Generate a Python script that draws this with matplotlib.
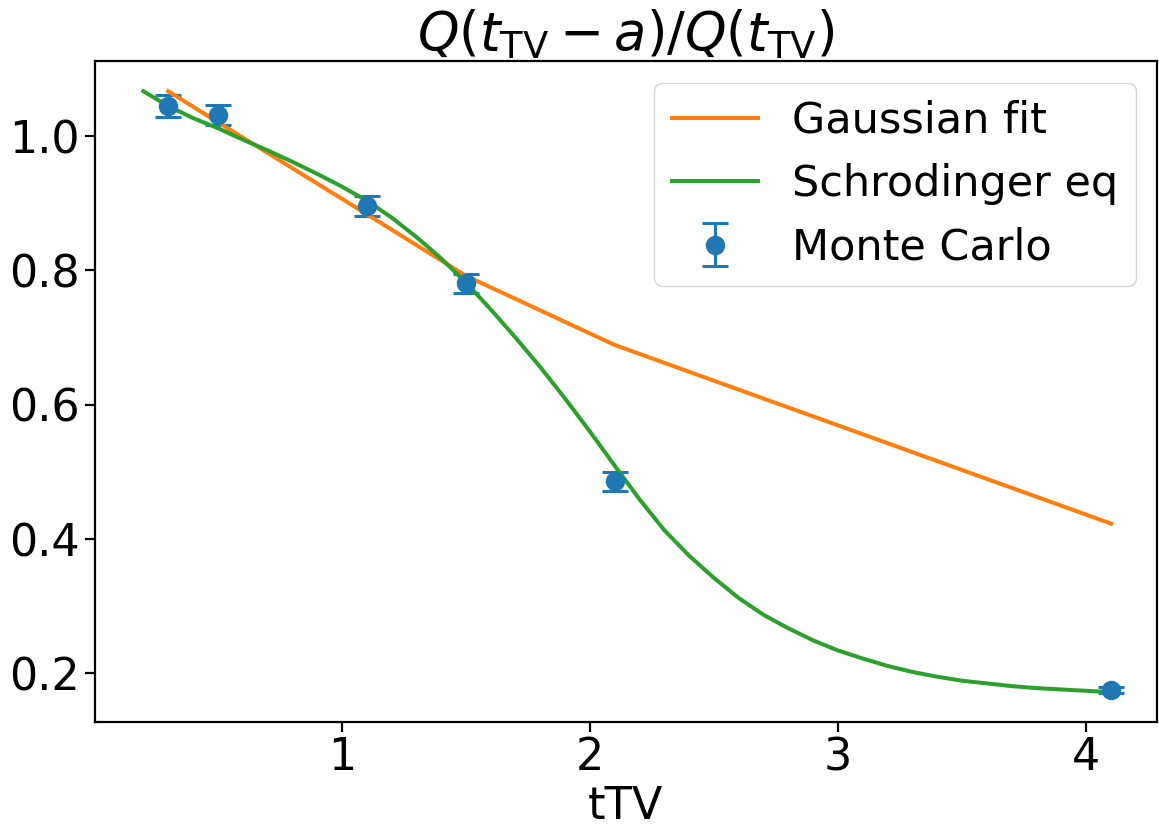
import numpy as np
import matplotlib
matplotlib.use("Agg")
from matplotlib import pyplot as plt

# Monte Carlo points
x_mc = [0.3, 0.5, 1.1, 1.5, 2.1, 4.1]
y_mc = [1.045, 1.032, 0.896, 0.781, 0.486, 0.175]
err_mc = [0.016, 0.015, 0.015, 0.014, 0.014, 0.004]

# Gaussian fit
x_gauss = [0.3, 0.5, 1.1, 1.5, 2.1, 4.1]
y_gauss = [1.067, 1.021, 0.884, 0.792, 0.689, 0.423]

# Schrodinger eq curve
x_schr = [0.2, 0.3, 0.4, 0.5, 0.6, 0.7, 0.8, 0.9, 1.0, 1.1,
          1.2, 1.3, 1.4, 1.5, 1.6, 1.7, 1.8, 1.9, 2.0, 2.1,
          2.2, 2.3, 2.4, 2.5, 2.6, 2.7, 2.8, 2.9, 3.0, 3.1,
          3.2, 3.3, 3.4, 3.5, 3.6, 3.7, 3.8, 3.9, 4.0, 4.1]
y_schr = [1.067, 1.045, 1.027, 1.012, 0.995, 0.979, 0.962, 0.944, 0.925, 0.904,
          0.879, 0.850, 0.818, 0.782, 0.742, 0.700, 0.656, 0.609, 0.560, 0.509,
          0.459, 0.413, 0.375, 0.342, 0.312, 0.287, 0.267, 0.249, 0.234, 0.222,
          0.211, 0.202, 0.195, 0.189, 0.185, 0.181, 0.178, 0.176, 0.174, 0.172]

fs = 31
plt.rcParams['font.size'] = fs

fig = plt.figure(figsize=(11.59, 8.33), dpi=100)
ax = fig.add_axes([0.0817, 0.1336, 0.9166, 0.7932])

ax.errorbar(x_mc, y_mc, yerr=err_mc, fmt='o', color='#1f77b4', ms=13,
            elinewidth=2.2, capsize=9.5, capthick=2.2, label='Monte Carlo')
ax.plot(x_gauss, y_gauss, color='#ff7f0e', lw=2.9, label='Gaussian fit')
ax.plot(x_schr, y_schr, color='#2ca02c', lw=2.9, label='Schrodinger eq')

ax.set_xlim(0.004, 4.285)
ax.set_ylim(0.128, 1.112)
ax.set_xticks([1, 2, 3, 4])
ax.set_yticks([0.2, 0.4, 0.6, 0.8, 1.0])

for s in ax.spines.values():
    s.set_linewidth(1.6)
ax.tick_params(width=1.6, length=7, labelsize=32)

ax.set_xlabel('tTV', fontsize=32)
ax.set_title(r'$Q(t_{\rm TV}-a)/Q(t_{\rm TV})$', fontsize=38, pad=6)
ax.legend(loc='upper right', fontsize=fs)

fig.savefig('out.png', dpi=100)
